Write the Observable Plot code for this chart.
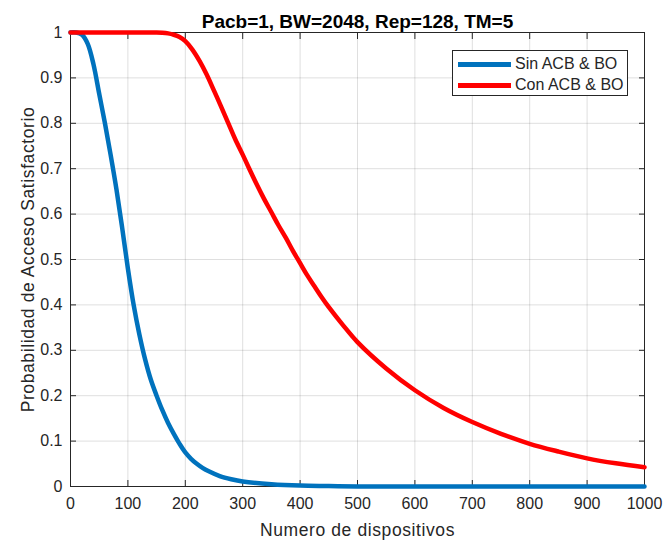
<!DOCTYPE html>
<html>
<head>
<meta charset="utf-8">
<script src="https://cdn.jsdelivr.net/npm/d3@7"></script>
<script src="https://cdn.jsdelivr.net/npm/@observablehq/plot@0.6"></script>
<style>
  html, body { margin: 0; padding: 0; background: #fff; }
  #wrap { position: relative; width: 666px; height: 544px; font-family: "Liberation Sans", Arial, sans-serif; }
  #legend { position: absolute; left: 452px; top: 50px; width: 176px; height: 46px; background: #fff;
            border: 1px solid #262626; box-sizing: border-box; }
  .row { position: absolute; left: 0; height: 20px; display: flex; align-items: center; }
  .sw { display: inline-block; width: 53px; height: 5px; margin-left: 5px; margin-right: 4px; }
  .lt { font-size: 16px; color: #262626; white-space: nowrap; }
</style>
</head>
<body>
<div id="wrap"><div id="legend"></div></div>
<script>
const title = "Pacb=1, BW=2048, Rep=128, TM=5";
const xLabel = "Numero de dispositivos";
const yLabel = "Probabilidad de Acceso Satisfactorio";
const seriesNames = ["Sin ACB & BO", "Con ACB & BO"];
const seriesColors = ["#0072BD", "#FF0000"];
const xTicks = [0, 100, 200, 300, 400, 500, 600, 700, 800, 900, 1000];
const yTicks = [0, 0.1, 0.2, 0.3, 0.4, 0.5, 0.6, 0.7, 0.8, 0.9, 1];

const sinX = [0, 10, 20, 30, 40, 50, 60, 70, 80, 90, 100, 110, 120, 130, 140, 150, 160, 170, 180, 190, 200, 210, 220, 230, 240, 260, 280, 300, 350, 400, 450, 500, 600, 700, 800, 900, 1000];
const sinY = [1, 1, 0.995, 0.975, 0.93, 0.865, 0.8, 0.73, 0.655, 0.57, 0.48, 0.4, 0.335, 0.28, 0.235, 0.2, 0.168, 0.14, 0.116, 0.094, 0.075, 0.061, 0.05, 0.041, 0.034, 0.023, 0.016, 0.011, 0.005, 0.002, 0.001, 0, 0, 0, 0, 0, 0];

const conX = [0, 50, 100, 150, 160, 170, 180, 190, 200, 212, 225, 237, 250, 262, 275, 287, 300, 311, 325, 337, 350, 362, 375, 387, 400, 412, 425, 437, 450, 475, 500, 550, 600, 650, 700, 750, 800, 850, 900, 950, 1000];
const conY = [1, 1, 1, 1, 0.9995, 0.998, 0.995, 0.99, 0.981, 0.963, 0.937, 0.908, 0.872, 0.838, 0.8, 0.765, 0.731, 0.701, 0.664, 0.634, 0.604, 0.576, 0.548, 0.52, 0.492, 0.466, 0.441, 0.418, 0.395, 0.355, 0.318, 0.26, 0.212, 0.173, 0.142, 0.116, 0.094, 0.077, 0.062, 0.051, 0.0425];

const sinData = sinX.map((x, i) => ({x, y: sinY[i]}));
const conData = conX.map((x, i) => ({x, y: conY[i]}));

const axisColor = "#262626";
const fmt = d => `${d}`;

const chart = Plot.plot({
  width: 666,
  height: 544,
  marginTop: 32,
  marginBottom: 58,
  marginLeft: 70,
  marginRight: 22,
  style: { fontFamily: "'Liberation Sans', Arial, sans-serif", fontSize: "16px", color: axisColor, background: "#fff" },
  x: { domain: [0, 1000] },
  y: { domain: [0, 1] },
  marks: [
    Plot.gridX(xTicks, { stroke: axisColor, strokeOpacity: 0.15 }),
    Plot.gridY(yTicks, { stroke: axisColor, strokeOpacity: 0.15 }),
    Plot.frame({ stroke: axisColor, strokeWidth: 1 }),
    // inward ticks on all four sides
    Plot.axisX(xTicks, { anchor: "bottom", tickSize: 6, dy: -6, tickFormat: () => "", label: null, stroke: axisColor }),
    Plot.axisX(xTicks, { anchor: "top", tickSize: 6, dy: 6, tickFormat: () => "", label: null, stroke: axisColor }),
    Plot.axisY(yTicks, { anchor: "left", tickSize: 6, dx: 6, tickFormat: () => "", label: null, stroke: axisColor }),
    Plot.axisY(yTicks, { anchor: "right", tickSize: 6, dx: -6, tickFormat: () => "", label: null, stroke: axisColor }),
    // tick labels
    Plot.axisX(xTicks, { anchor: "bottom", tickSize: 0, tickPadding: 11, tickFormat: fmt, label: null, fill: axisColor, fontSize: 16 }),
    Plot.axisY(yTicks, { anchor: "left", tickSize: 0, tickPadding: 8, tickFormat: fmt, label: null, fill: axisColor, fontSize: 16 }),
    // series
    Plot.line(sinData, { x: "x", y: "y", stroke: seriesColors[0], strokeWidth: 4.5, curve: "catmull-rom" }),
    Plot.line(conData, { x: "x", y: "y", stroke: seriesColors[1], strokeWidth: 4.5, curve: "catmull-rom" }),
    // title and axis labels
    Plot.text([title], { text: d => d, frameAnchor: "top", lineAnchor: "bottom", dy: -5, fontSize: 19, fontWeight: "bold", fill: "#000" }),
    Plot.text([xLabel], { text: d => d, frameAnchor: "bottom", textAnchor: "middle", lineAnchor: "bottom", dy: 49, fontSize: 17.5, fill: axisColor }),
    Plot.text([yLabel], { text: d => d, frameAnchor: "left", textAnchor: "middle", lineAnchor: "bottom", rotate: -90, dx: -37, fontSize: 17.5, fill: axisColor })
  ]
});

// letter spacing for axis labels
d3.select(chart).selectAll("text").filter(function() { return this.textContent === xLabel || this.textContent === yLabel; })
  .style("letter-spacing", "0.6px");

const wrap = document.getElementById("wrap");
wrap.insertBefore(chart, wrap.firstChild);

const legend = document.getElementById("legend");
seriesNames.forEach((name, i) => {
  const row = document.createElement("div");
  row.className = "row";
  row.style.top = (i === 0 ? 3 : 24) + "px";
  const sw = document.createElement("span");
  sw.className = "sw";
  sw.style.background = seriesColors[i];
  const lt = document.createElement("span");
  lt.className = "lt";
  lt.textContent = name;
  row.appendChild(sw);
  row.appendChild(lt);
  legend.appendChild(row);
});
</script>
</body>
</html>
